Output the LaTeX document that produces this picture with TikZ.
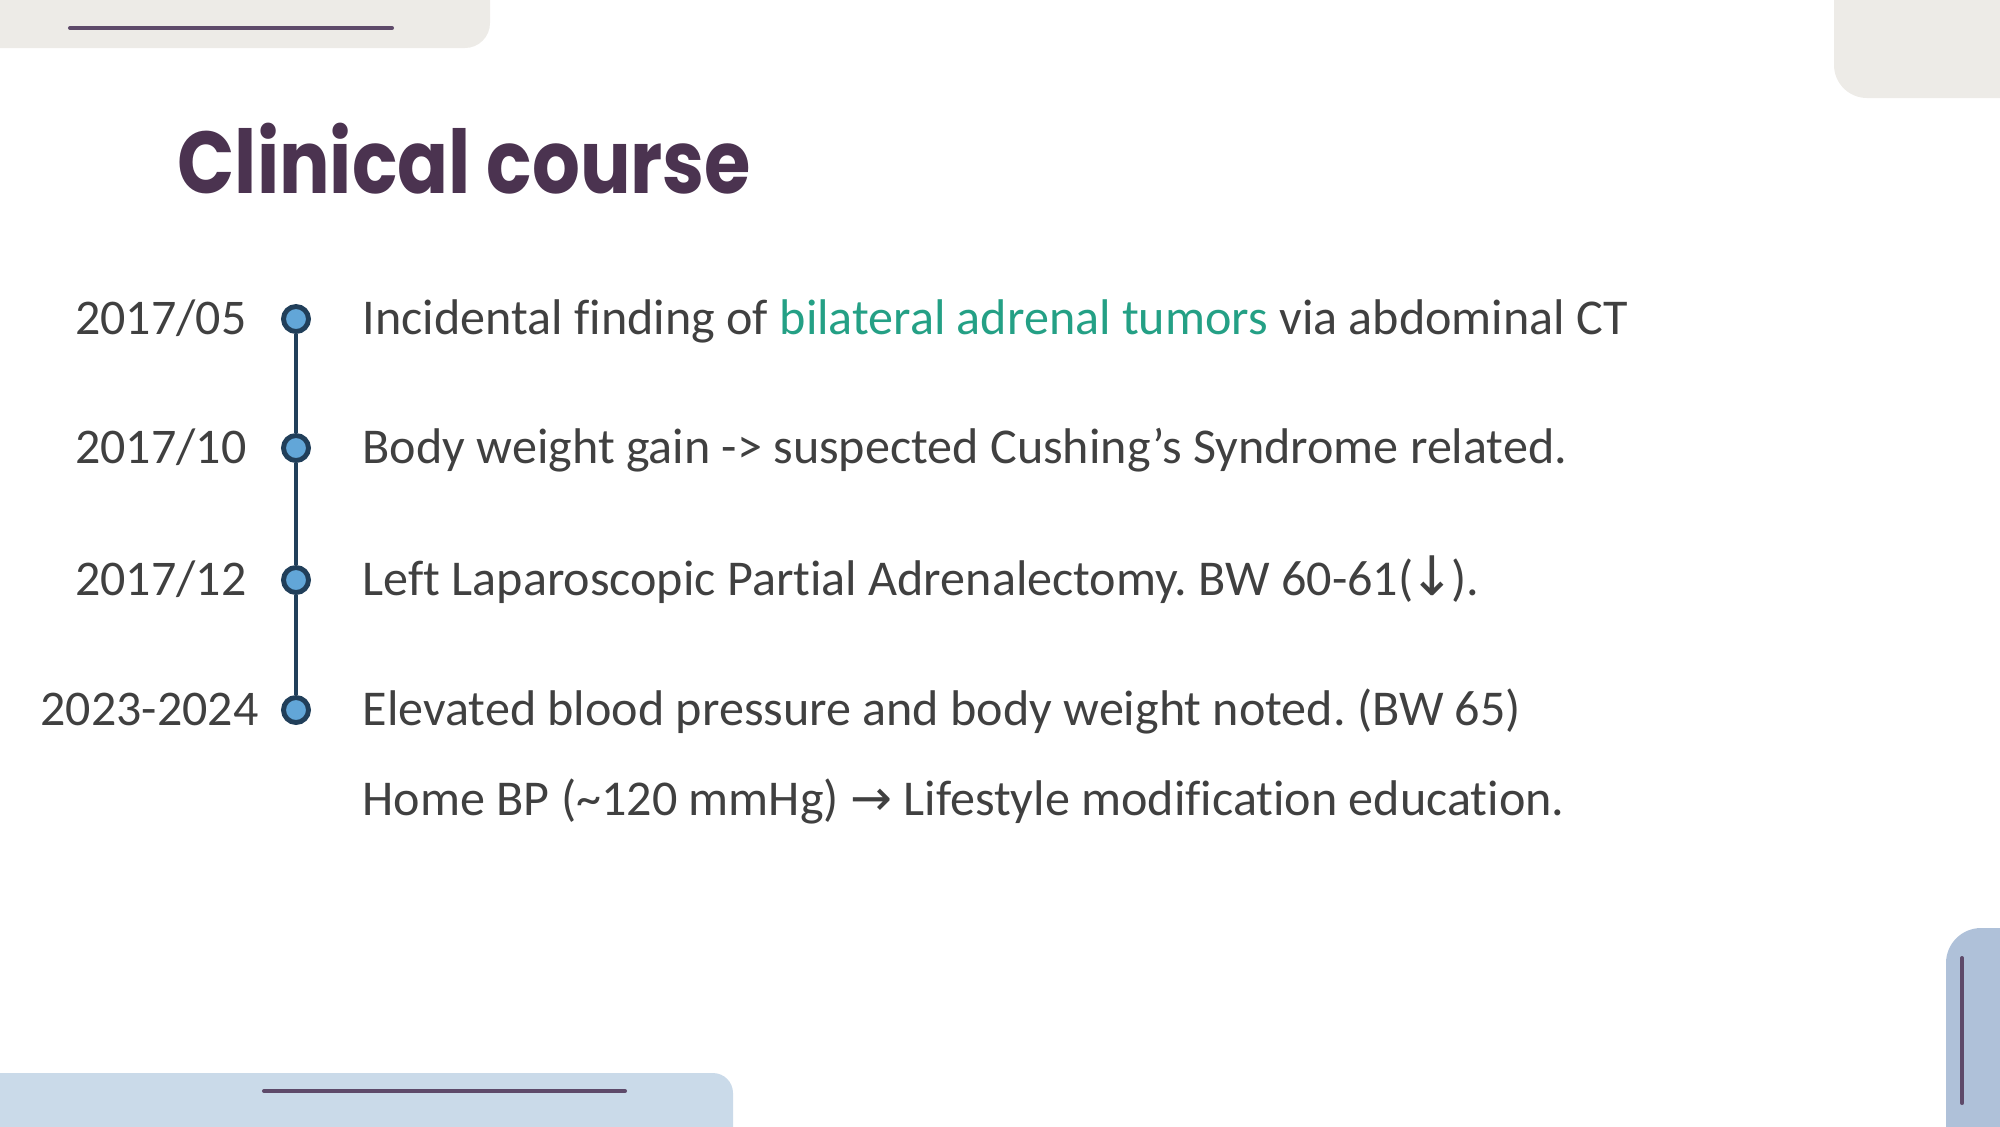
\documentclass[tikz,border=0pt]{standalone}
\usepackage{fontspec}
\setmainfont[Ligatures=NoCommon]{Carlito}
\newfontfamily\titlefont{Poppins}
\newfontfamily\arrowfont{DejaVu Sans}
\usetikzlibrary{positioning}
\frenchspacing

\definecolor{paper}{HTML}{EDEBE7}
\definecolor{plum}{HTML}{5E4A6A}
\definecolor{titleplum}{HTML}{4B3350}
\definecolor{paleblue}{HTML}{CADAE9}
\definecolor{greyblue}{HTML}{AFC1D9}
\definecolor{ink}{HTML}{404040}
\definecolor{teal}{HTML}{24A085}
\definecolor{dotfill}{HTML}{62A6D8}
\definecolor{dotline}{HTML}{213F5A}

\tikzset{
	dot/.style={circle, draw=dotline, fill=dotfill, line width=1.4pt, minimum size=0.25cm, inner sep=0pt},
	datelabel/.style={anchor=base east, inner sep=0pt, text=ink, font=\fontsize{14.2}{17}\selectfont},
	event/.style={anchor=base west, inner sep=0pt, text=ink, font=\fontsize{14.25}{17}\selectfont},
	deco/.style={line width=1.15pt, plum, line cap=round}
}

\begin{document}
\begin{tikzpicture}[x=0.01cm, y=-0.01cm]
		\useasboundingbox (0,0) rectangle (2000,1126);
		\fill[paper, rounded corners=0.25cm] (-50,-50) rectangle (490,48);
		\fill[paper, rounded corners=0.33cm] (1834,-50) rectangle (2050,98);
		\fill[paleblue, rounded corners=0.2cm] (-50,1073) rectangle (733,1180);
		\fill[greyblue, rounded corners=0.35cm] (1946,928) rectangle (2050,1180);
		\draw[deco] (70,28) -- (392,28);
		\draw[deco] (264,1091) -- (625,1091);
		\draw[deco] (1962,958) -- (1962,1103);

		\node[anchor=base west, inner sep=0pt, xscale=0.855, text=titleplum, font=\titlefont\bfseries\fontsize{25}{30}\selectfont] (title) at (177,193) {Clinical course};

		\node[dot] (d1) at (296,319) {};
		\node[dot] (d2) at (296,448) {};
		\node[dot] (d3) at (296,580) {};
		\node[dot] (d4) at (296,710) {};
		\draw[dotline, line width=1.15pt] (d1) -- (d2) -- (d3) -- (d4);

		\node[datelabel] (t1) at (247,334) {2017/05};
		\node[datelabel] (t2) at (247,463) {2017/10};
		\node[datelabel] (t3) at (247,595) {2017/12};
		\node[datelabel] (t4) at (259,725) {2023-2024};

		\node[event] (e1) at (362,334) {Incidental finding of \textcolor{teal}{bilateral adrenal tumors} via abdominal CT};
		\node[event] (e2) at (362,463) {Body weight gain -> suspected Cushing’s Syndrome related.};
		\node[event] (e3) at (362,595) {Left Laparoscopic Partial Adrenalectomy. BW 60-61(\kern-0.08em{\arrowfont\fontsize{15.5}{17}\selectfont ↓}\kern-0.08em).};
		\node[event] (e4) at (362,725) {Elevated blood pressure and body weight noted. (BW 65)};
		\node[event] (e5) at (362,815) {Home BP (\char`\~120 mmHg) {\arrowfont →} Lifestyle modification education.};
	\end{tikzpicture}
\end{document}
